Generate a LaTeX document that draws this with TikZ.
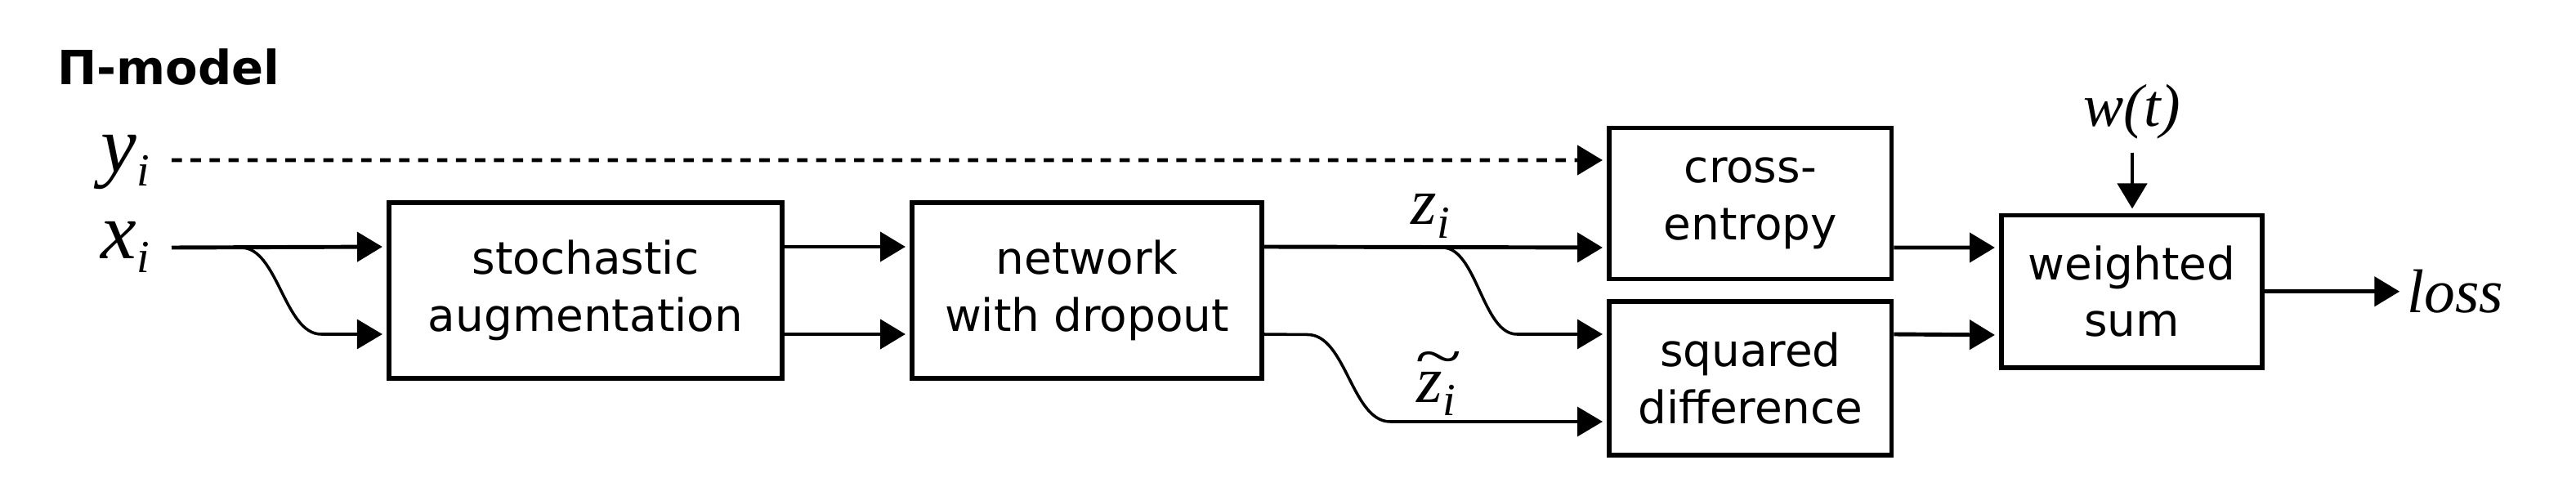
\documentclass[tikz,border=0pt]{standalone}
\usepackage{fontspec}
\setsansfont{DejaVu Sans}
\newfontfamily\tnr{Liberation Serif}
\usetikzlibrary{arrows.meta}
\newcommand{\lowidx}[1]{\raisebox{-4.6pt}{\fontsize{16}{16}\selectfont #1}}
\newcommand{\widetld}[1]{\rlap{\hspace{-0.8pt}\raisebox{8.9pt}{\scalebox{1.3}[0.9]{\char"007E}}}#1}

\begin{document}
\begin{tikzpicture}[block/.style={rectangle, draw, line width=1.6pt, inner sep=0pt, align=center, font=\sffamily\fontsize{15.6}{19.8}\selectfont},
    arr/.style={-{Triangle[length=8.8pt,width=10.2pt]}, line width=1.4pt, shorten >=1.5pt},
    splitline/.style={arr, line width=1pt},
    var/.style={font=\tnr\itshape\fontsize{#1}{#1}\selectfont, inner sep=0pt},
    var/.default=28]
        \useasboundingbox (0,0) rectangle (31.52,6.06);
        \node at (0.70,5.02) [anchor=base west, inner sep=0pt, font=\sffamily\bfseries\fontsize{16.4}{18}\selectfont] (title) {Π-model};

        \node at (7.165,2.505) [block, minimum width=4.81cm, minimum height=2.15cm] (aug) {stochastic\\augmentation};
        \node at (13.30,2.505) [block, minimum width=4.28cm, minimum height=2.15cm] (net) {network\\with dropout};
        \node at (21.418,3.57) [block, minimum width=3.455cm, minimum height=1.85cm] (ce) {cross-\\entropy};
        \node at (21.418,1.43) [block, minimum width=3.455cm, minimum height=1.875cm] (sq) {squared\\difference};
        \node at (26.085,2.4925) [block, minimum width=3.19cm, minimum height=1.865cm] (ws) {weighted\\sum};

        \node at (1.84,3.95) [var, anchor=base east] (ylab) {y\lowidx{i}};
        \node at (1.84,2.89) [var, anchor=base east] (xlab) {x\lowidx{i}};
        \node at (17.26,3.31) [var=23, anchor=base west] (zlab) {z\lowidx{i}};
        \node at (17.33,1.14) [var=23, anchor=base west] (ztlab) {\widetld{z}\lowidx{i}};
        \node at (26.09,4.51) [var=21, anchor=base] (wt) {w(t)};
        \node at (29.45,2.4925) [var=21.5, anchor=west] (loss) {loss};

        \coordinate (yin) at (2.10,4.10);
        \coordinate (xin) at (2.10,3.03);
        \coordinate (xsplit) at (2.95,3.03);
        \coordinate (zsplit) at (17.65,3.03);
        \coordinate (ntsplit) at (16.00,1.965);

        \draw [arr, dash pattern=on 3.6pt off 3pt](yin) -- ([yshift=5.3mm]ce.west);
        \draw [arr](xin) -- ([yshift=5.35mm]aug.west);
        \draw [splitline](xsplit) .. controls (3.40,3.03) and (3.48,1.97) .. (3.93,1.97) -- ([yshift=-5.35mm]aug.west);
        \draw [arr]([yshift=5.35mm]aug.east) -- ([yshift=5.35mm]net.west);
        \draw [arr]([yshift=-5.35mm]aug.east) -- ([yshift=-5.35mm]net.west);
        \draw [arr]([yshift=5.35mm]net.east) -- ([yshift=-5.4mm]ce.west);
        \draw [splitline](zsplit) .. controls (18.07,3.03) and (18.14,1.97) .. (18.56,1.97) -- ([yshift=5.4mm]sq.west);
        \draw [splitline]([yshift=-5.35mm]net.east) -- (ntsplit) .. controls (16.47,1.965) and (16.54,0.90) .. (17.01,0.90) -- ([yshift=-5.3mm]sq.west);
        \draw [arr]([yshift=-5.4mm]ce.east) -- ([yshift=5.375mm]ws.west);
        \draw [arr]([yshift=5.4mm]sq.east) -- ([yshift=-5.325mm]ws.west);
        \draw [arr, shorten <=4.3pt](wt.south) -- (wt.south |- ws.north);
        \draw [arr, shorten >=2.5pt](ws) -- (loss);
    \end{tikzpicture}
\end{document}
